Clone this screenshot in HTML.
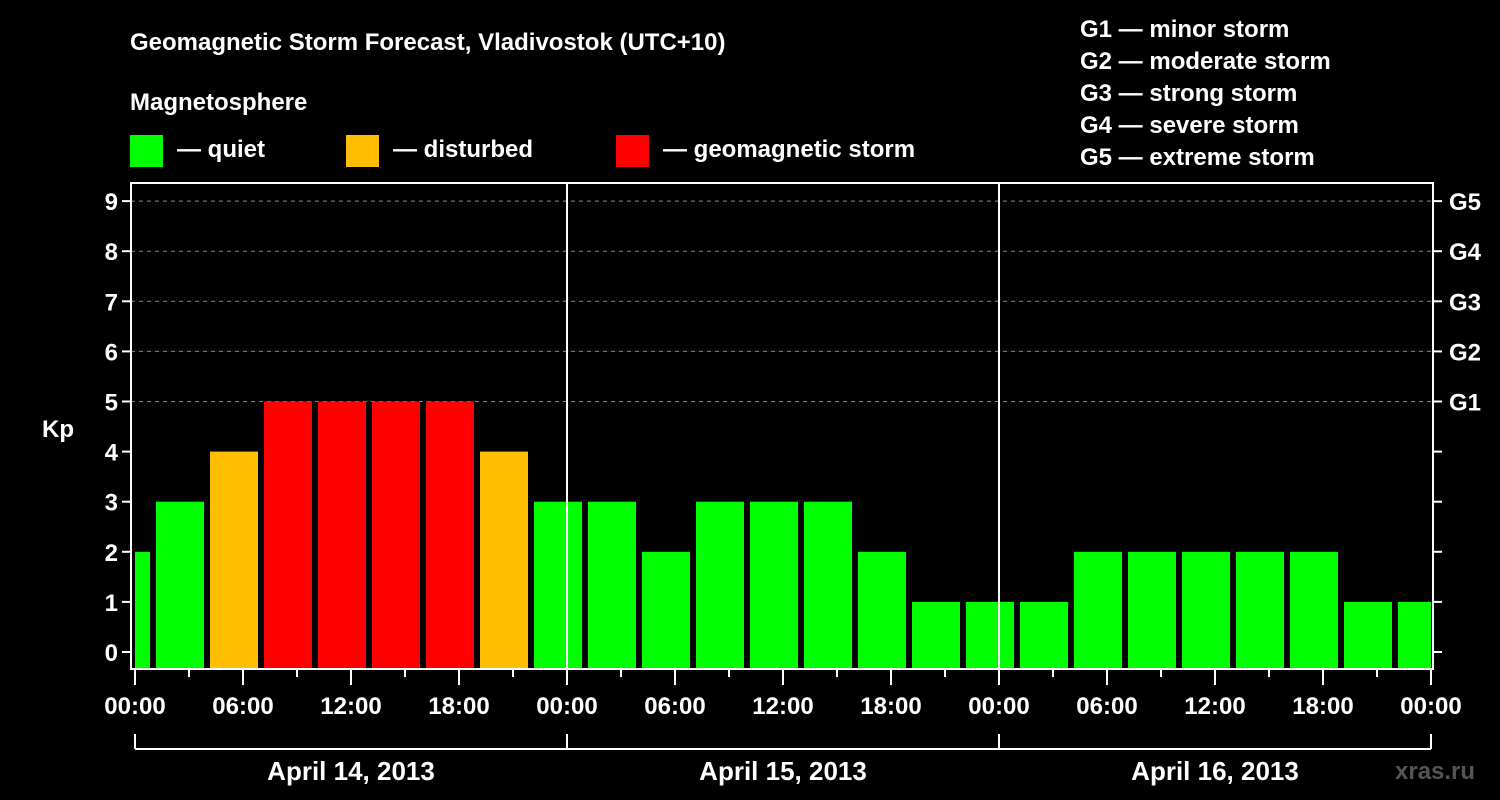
<!DOCTYPE html>
<html><head><meta charset="utf-8"><style>
html,body{margin:0;padding:0;background:#000;}
svg{display:block;font-family:"Liberation Sans",Arial,sans-serif;font-weight:bold;}
</style></head><body>
<svg id="chart" width="1500" height="800" viewBox="0 0 1500 800">
<rect width="1500" height="800" fill="#000"/>
<text x="130" y="50" fill="#fff" font-size="24">Geomagnetic Storm Forecast, Vladivostok (UTC+10)</text>
<text x="130" y="110" fill="#fff" font-size="24">Magnetosphere</text>
<g>
<rect x="130" y="135" width="33" height="32" fill="#00ff00"/>
<text x="177" y="157" fill="#fff" font-size="24">— quiet</text>
<rect x="346" y="135" width="33" height="32" fill="#ffbf00"/>
<text x="393" y="157" fill="#fff" font-size="24">— disturbed</text>
<rect x="616" y="135" width="33" height="32" fill="#ff0000"/>
<text x="663" y="157" fill="#fff" font-size="24">— geomagnetic storm</text>
</g>
<g font-size="24" fill="#fff">
<text x="1080" y="37">G1 — minor storm</text>
<text x="1080" y="69">G2 — moderate storm</text>
<text x="1080" y="101">G3 — strong storm</text>
<text x="1080" y="133">G4 — severe storm</text>
<text x="1080" y="165">G5 — extreme storm</text>
</g>
<g id="grid"></g>
<g id="bars"></g>
<g id="axes"></g>
<text x="1395" y="779" fill="#555" font-size="24">xras.ru</text>
</svg>
<script>
const kpValues=[2,3,4,5,5,5,5,4,3,3,2,3,3,3,2,1,1,1,2,2,2,2,2,1,1];
const barStartHours=[-2,1,4,7,10,13,16,19,22,25,28,31,34,37,40,43,46,49,52,55,58,61,64,67,70];
const yTicks=[0,1,2,3,4,5,6,7,8,9];
const gLabels=["G1","G2","G3","G4","G5"];
const gLevels=[5,6,7,8,9];
const xTickLabels=["00:00","06:00","12:00","18:00","00:00","06:00","12:00","18:00","00:00","06:00","12:00","18:00","00:00"];
const dayLabels=["April 14, 2013","April 15, 2013","April 16, 2013"];
const NS="http://www.w3.org/2000/svg";
const X0=135,PXH=18,TOTALH=72,Y0=652,PXK=50.1,TOP=183,BOT=669,LEFT=131,RIGHT=1433;
const x=h=>X0+h*PXH, y=k=>Y0-k*PXK;
function mk(tag,attrs,parent){const e=document.createElementNS(NS,tag);for(const k in attrs)e.setAttribute(k,attrs[k]);document.getElementById(parent).appendChild(e);return e;}
gLevels.forEach((k,i)=>{
 const l=mk('line',{x1:LEFT,x2:RIGHT,y1:y(k),y2:y(k),stroke:'#888','stroke-dasharray':'4,4','stroke-width':1},'grid');
 
 
});
kpValues.forEach((v,i)=>{
 let a=x(barStartHours[i])+3,b=x(barStartHours[i]+3)-3;
 a=Math.max(a,LEFT+4);b=Math.min(b,RIGHT-2);
 const c=v>=5?'#ff0000':(v>=4?'#ffbf00':'#00ff00');
 const r=mk('rect',{x:a,y:y(v),width:b-a,height:BOT-1-y(v),fill:c},'bars');
 
 
});
for(const d of [1,2]){const l=mk('line',{x1:x(24*d),x2:x(24*d),y1:TOP,y2:BOT,stroke:'#fff','stroke-width':2},'axes');
 
 }
const fr=mk('rect',{x:LEFT,y:TOP,width:RIGHT-LEFT,height:BOT-TOP,fill:'none',stroke:'#fff','stroke-width':2},'axes');


yTicks.forEach(k=>{
 mk('line',{x1:LEFT-9,x2:LEFT,y1:y(k),y2:y(k),stroke:'#fff','stroke-width':2},'axes');
 mk('line',{x1:RIGHT,x2:RIGHT+9,y1:y(k),y2:y(k),stroke:'#fff','stroke-width':2},'axes');
 const t=mk('text',{x:LEFT-13,y:y(k)+9,fill:'#fff','font-size':24,'text-anchor':'end'},'axes');t.textContent=k;
 
 
});
gLabels.forEach((g,i)=>{const t=mk('text',{x:1449,y:y(gLevels[i])+9,fill:'#fff','font-size':24},'axes');t.textContent=g;
 
 });
const kp=mk('text',{x:42,y:437,fill:'#fff','font-size':24},'axes');kp.textContent='Kp';


for(let h=0;h<=TOTALH;h+=3){mk('line',{x1:x(h),x2:x(h),y1:BOT,y2:BOT+(h%6==0?16:8),stroke:'#fff','stroke-width':2},'axes');}
xTickLabels.forEach((s,i)=>{const t=mk('text',{x:x(i*6),y:714,fill:'#fff','font-size':24,'text-anchor':'middle'},'axes');t.textContent=s;
 
 });
mk('line',{x1:x(0),x2:x(TOTALH),y1:749,y2:749,stroke:'#fff','stroke-width':2},'axes');
for(let d=0;d<=3;d++)mk('line',{x1:x(24*d),x2:x(24*d),y1:734,y2:749,stroke:'#fff','stroke-width':2},'axes');
dayLabels.forEach((s,i)=>{const t=mk('text',{x:x(24*i+12),y:780,fill:'#fff','font-size':26,'text-anchor':'middle'},'axes');t.textContent=s;
 
 });
</script>
</body></html>
